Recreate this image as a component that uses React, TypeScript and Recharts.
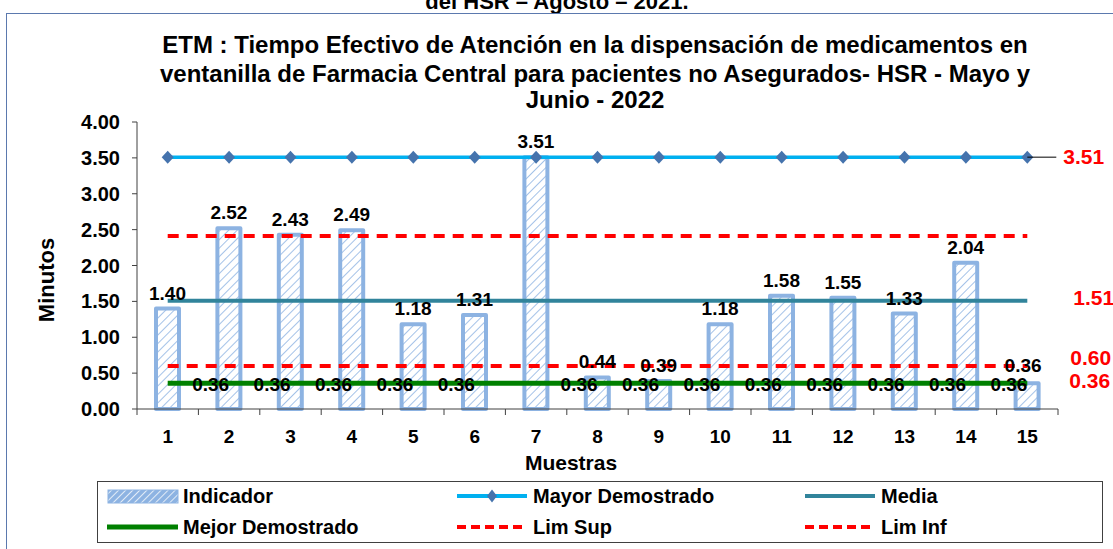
import { Bar, ComposedChart, LabelList, Line, XAxis, YAxis } from "recharts";

const FONT = '"Liberation Sans", Arial, sans-serif';

// categories (muestras)
const muestras = ["1", "2", "3", "4", "5", "6", "7", "8", "9", "10", "11", "12", "13", "14", "15"];

// series values
const indicador = [1.4, 2.52, 2.43, 2.49, 1.18, 1.31, 3.51, 0.44, 0.39, 1.18, 1.58, 1.55, 1.33, 2.04, 0.36];
const mayorDemostrado = [3.51, 3.51, 3.51, 3.51, 3.51, 3.51, 3.51, 3.51, 3.51, 3.51, 3.51, 3.51, 3.51, 3.51, 3.51];
const media = [1.51, 1.51, 1.51, 1.51, 1.51, 1.51, 1.51, 1.51, 1.51, 1.51, 1.51, 1.51, 1.51, 1.51, 1.51];
const mejorDemostrado = [0.36, 0.36, 0.36, 0.36, 0.36, 0.36, 0.36, 0.36, 0.36, 0.36, 0.36, 0.36, 0.36, 0.36, 0.36];
const limSup = [2.41, 2.41, 2.41, 2.41, 2.41, 2.41, 2.41, 2.41, 2.41, 2.41, 2.41, 2.41, 2.41, 2.41, 2.41];
const limInf = [0.6, 0.6, 0.6, 0.6, 0.6, 0.6, 0.6, 0.6, 0.6, 0.6, 0.6, 0.6, 0.6, 0.6, 0.6];

const yTicks = [0, 0.5, 1, 1.5, 2, 2.5, 3, 3.5, 4];

const data = muestras.map((m, i) => ({
  muestra: m,
  indicador: indicador[i],
  mayor: mayorDemostrado[i],
  media: media[i],
  mejor: mejorDemostrado[i],
  limSup: limSup[i],
  limInf: limInf[i],
}));

const W = 1113;
const H = 549;
const MARGIN = { top: 122, right: 55, bottom: 110, left: 57 };
const Y_AXIS_W = 80;
const PLOT_W = W - MARGIN.right - MARGIN.left - Y_AXIS_W;
const BAND = PLOT_W / muestras.length;
const LAST = muestras.length - 1;

const fmt = (v: number) => Number(v).toFixed(2);

function XTick(props: any) {
  const { x, y, payload, index } = props;
  return (
    <g>
      <line x1={x + BAND / 2} x2={x + BAND / 2} y1={y} y2={y + 6} stroke="#404040" />
      {index === 0 && <line x1={x - BAND / 2} x2={x - BAND / 2} y1={y} y2={y + 6} stroke="#404040" />}
      <text x={x} y={y + 34} textAnchor="middle" fontFamily={FONT} fontWeight="bold" fontSize={19} fill="#000">
        {payload.value}
      </text>
    </g>
  );
}

function BarLabel(props: any) {
  const { x, y, width, value, index } = props;
  const last = index === LAST;
  return (
    <text
      x={x + width / 2 + (last ? -4 : 0)}
      y={y - (last ? 11 : 9)}
      textAnchor="middle"
      fontFamily={FONT}
      fontWeight="bold"
      fontSize={19}
      fill="#000"
    >
      {fmt(value)}
    </text>
  );
}

function RedLabel(props: any, dx: number, dy: number, leader = false) {
  const { x, y, value, index } = props;
  if (index !== LAST) return null;
  return (
    <g>
      {leader && <line x1={x} x2={x + 29} y1={y} y2={y} stroke="#000" strokeWidth={1} />}
      <text x={x + dx} y={y + dy} fontFamily={FONT} fontWeight="bold" fontSize={21} fill="#FF0000">
        {fmt(value)}
      </text>
    </g>
  );
}

function MejorLabel(props: any) {
  const { x, y, value, index } = props;
  if (index === LAST) return RedLabel(props, 42, 5);
  if (index === 5) return null;
  return (
    <text x={x + 43} y={y + 8} textAnchor="middle" fontFamily={FONT} fontWeight="bold" fontSize={19} fill="#000">
      {fmt(value)}
    </text>
  );
}

function Diamond(props: any) {
  const { cx, cy, index } = props;
  return (
    <path
      key={`d-${index}`}
      d={`M${cx},${cy - 6.5} L${cx + 6},${cy} L${cx},${cy + 6.5} L${cx - 6},${cy} Z`}
      fill="#4573AD"
    />
  );
}

function Overlay() {
  const t = { fontFamily: FONT, fontWeight: "bold" as const, fill: "#000" };
  const legendText = { ...t, fontSize: 20 };
  return (
    <svg width={W} height={H} style={{ position: "absolute", left: 0, top: 0, pointerEvents: "none" }}>
      <defs>
        <pattern id="hatchLegend" patternUnits="userSpaceOnUse" width="5" height="5" patternTransform="rotate(45)">
          <rect width="5" height="5" fill="#8DB3E2" />
          <line x1="0" y1="0" x2="0" y2="5" stroke="#fff" strokeWidth="1.5" />
        </pattern>
      </defs>
      <text x={557} y={9} textAnchor="middle" {...t} fontSize={22}>
        del HSR – Agosto – 2021.
      </text>
      <line x1={6.5} x2={6.5} y1={13} y2={H} stroke="#5B79AE" />
      <line x1={6} x2={W} y1={13.5} y2={13.5} stroke="#5B79AE" />

      <text x={595} y={53} textAnchor="middle" {...t} fontSize={24}>
        ETM : Tiempo Efectivo de Atención en la dispensación de medicamentos en
      </text>
      <text x={595} y={82} textAnchor="middle" {...t} fontSize={24}>
        ventanilla de Farmacia Central para pacientes no Asegurados- HSR - Mayo y
      </text>
      <text x={595} y={108} textAnchor="middle" {...t} fontSize={24}>
        Junio -  2022
      </text>

      <text x={571} y={470} textAnchor="middle" {...t} fontSize={21}>
        Muestras
      </text>
      <text transform="translate(54,280) rotate(-90)" textAnchor="middle" {...t} fontSize={22}>
        Minutos
      </text>

      <rect x={97.5} y={481.5} width={1005} height={61} fill="#fff" stroke="#404040" />
      <rect x={108} y={490} width={70} height={13} fill="url(#hatchLegend)" stroke="#8DB3E2" strokeWidth={1} />
      <text x={183} y={503} {...legendText}>Indicador</text>
      <line x1={457} x2={527} y1={496} y2={496} stroke="#00B0F0" strokeWidth={4} />
      <path d="M492,489.5 L497,496 L492,502.5 L487,496 Z" fill="#4573AD" />
      <text x={533} y={503} {...legendText}>Mayor Demostrado</text>
      <line x1={805} x2={875} y1={496} y2={496} stroke="#31849B" strokeWidth={4} />
      <text x={881} y={503} {...legendText}>Media</text>
      <line x1={107} x2={178} y1={527} y2={527} stroke="#008000" strokeWidth={5} />
      <text x={183} y={534} {...legendText}>Mejor Demostrado</text>
      <line x1={457} x2={527} y1={527} y2={527} stroke="#FF0000" strokeWidth={4} strokeDasharray="9 5" />
      <text x={533} y={534} {...legendText}>Lim Sup</text>
      <line x1={805} x2={875} y1={527} y2={527} stroke="#FF0000" strokeWidth={4} strokeDasharray="9 5" />
      <text x={881} y={534} {...legendText}>Lim Inf</text>
    </svg>
  );
}

export default function App() {
  return (
    <div style={{ position: "absolute", left: 0, top: 0, width: W, height: H, background: "#fff", fontFamily: FONT, overflow: "hidden" }}>
      <ComposedChart width={W} height={H} data={data} margin={MARGIN}>
        <defs>
          <pattern id="hatch" patternUnits="userSpaceOnUse" width="6" height="6" patternTransform="rotate(45)">
            <rect width="6" height="6" fill="#fff" />
            <line x1="0" y1="0" x2="0" y2="6" stroke="#8DB3E2" strokeWidth="1.6" />
          </pattern>
        </defs>
        <XAxis
          dataKey="muestra"
          tickLine={false}
          tickSize={0}
          tickMargin={0}
          height={30}
          axisLine={{ stroke: "#404040" }}
          tick={<XTick />}
          interval={0}
        />
        <YAxis
          width={Y_AXIS_W}
          domain={[0, 4]}
          ticks={yTicks}
          tickFormatter={fmt}
          tickSize={5}
          tickMargin={12}
          axisLine={{ stroke: "#404040" }}
          tickLine={{ stroke: "#404040" }}
          tick={{ fill: "#000", fontSize: 20, fontWeight: "bold", fontFamily: FONT }}
        />
        <Bar
          dataKey="indicador"
          barSize={23}
          fill="url(#hatch)"
          stroke="#8DB3E2"
          strokeWidth={4}
          strokeLinejoin="round"
          isAnimationActive={false}
        >
          <LabelList dataKey="indicador" content={<BarLabel />} />
        </Bar>
        <Line dataKey="limSup" stroke="#FF0000" strokeWidth={4} strokeDasharray="11 8" dot={false} isAnimationActive={false} />
        <Line dataKey="limInf" stroke="#FF0000" strokeWidth={4} strokeDasharray="11 8" dot={false} isAnimationActive={false}>
          <LabelList dataKey="limInf" content={(p: any) => RedLabel(p, 43, -1)} />
        </Line>
        <Line dataKey="media" stroke="#31849B" strokeWidth={4} dot={false} isAnimationActive={false}>
          <LabelList dataKey="media" content={(p: any) => RedLabel(p, 46, 4)} />
        </Line>
        <Line dataKey="mejor" stroke="#008000" strokeWidth={5} dot={false} isAnimationActive={false}>
          <LabelList dataKey="mejor" content={<MejorLabel />} />
        </Line>
        <Line dataKey="mayor" stroke="#00B0F0" strokeWidth={3.5} dot={<Diamond />} isAnimationActive={false}>
          <LabelList dataKey="mayor" content={(p: any) => RedLabel(p, 36, 7, true)} />
        </Line>
      </ComposedChart>
      <Overlay />
    </div>
  );
}
